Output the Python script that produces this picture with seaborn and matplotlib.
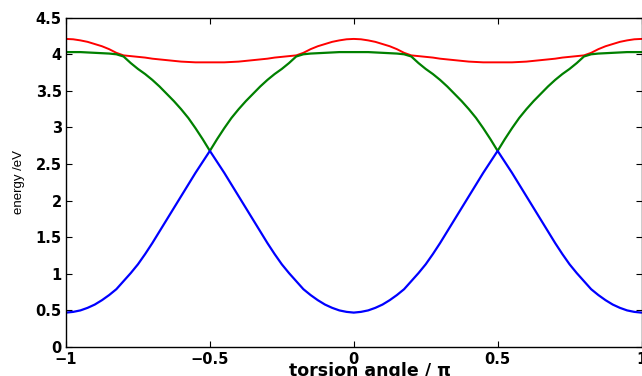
import matplotlib
matplotlib.use("Agg")
import matplotlib.pyplot as plt
import seaborn as sns
import pandas as pd

# torsion angle / pi
angle = [-1.000, -0.975, -0.950, -0.925, -0.900, -0.875, -0.850, -0.825, -0.800, -0.775,
         -0.750, -0.725, -0.700, -0.675, -0.650, -0.625, -0.600, -0.575, -0.550, -0.525,
         -0.500, -0.475, -0.450, -0.425, -0.400, -0.375, -0.350, -0.325, -0.300, -0.275,
         -0.250, -0.225, -0.200, -0.175, -0.150, -0.125, -0.100, -0.075, -0.050, -0.025,
         0.000, 0.025, 0.050, 0.075, 0.100, 0.125, 0.150, 0.175, 0.200, 0.225,
         0.250, 0.275, 0.300, 0.325, 0.350, 0.375, 0.400, 0.425, 0.450, 0.475,
         0.500, 0.525, 0.550, 0.575, 0.600, 0.625, 0.650, 0.675, 0.700, 0.725,
         0.750, 0.775, 0.800, 0.825, 0.850, 0.875, 0.900, 0.925, 0.950, 0.975,
         1.000]

# energies / eV, lowest state (blue)
state_low = [0.47, 0.48, 0.50, 0.535, 0.58, 0.64, 0.71, 0.79, 0.90, 1.01,
             1.13, 1.27, 1.42, 1.58, 1.74, 1.90, 2.06, 2.22, 2.38, 2.53,
             2.68, 2.53, 2.38, 2.22, 2.06, 1.90, 1.74, 1.58, 1.42, 1.27,
             1.13, 1.01, 0.90, 0.79, 0.71, 0.64, 0.58, 0.535, 0.50, 0.48,
             0.47, 0.48, 0.50, 0.535, 0.58, 0.64, 0.71, 0.79, 0.90, 1.01,
             1.13, 1.27, 1.42, 1.58, 1.74, 1.90, 2.06, 2.22, 2.38, 2.53,
             2.68, 2.53, 2.38, 2.22, 2.06, 1.90, 1.74, 1.58, 1.42, 1.27,
             1.13, 1.01, 0.90, 0.79, 0.71, 0.64, 0.58, 0.535, 0.50, 0.48,
             0.47]

# middle state (green)
state_mid = [4.03, 4.03, 4.03, 4.025, 4.02, 4.015, 4.01, 4.00, 3.97, 3.88,
             3.80, 3.73, 3.65, 3.56, 3.46, 3.36, 3.25, 3.13, 2.99, 2.84,
             2.68, 2.84, 2.99, 3.13, 3.25, 3.36, 3.46, 3.56, 3.65, 3.73,
             3.80, 3.88, 3.97, 4.00, 4.01, 4.015, 4.02, 4.025, 4.03, 4.03,
             4.03, 4.03, 4.03, 4.025, 4.02, 4.015, 4.01, 4.00, 3.97, 3.88,
             3.80, 3.73, 3.65, 3.56, 3.46, 3.36, 3.25, 3.13, 2.99, 2.84,
             2.68, 2.84, 2.99, 3.13, 3.25, 3.36, 3.46, 3.56, 3.65, 3.73,
             3.80, 3.88, 3.97, 4.00, 4.01, 4.015, 4.02, 4.025, 4.03, 4.03,
             4.03]

# highest state (red)
state_high = [4.21, 4.205, 4.19, 4.17, 4.14, 4.11, 4.07, 4.02, 3.985, 3.975,
              3.965, 3.955, 3.94, 3.93, 3.92, 3.91, 3.90, 3.895, 3.89, 3.89,
              3.89, 3.89, 3.89, 3.895, 3.90, 3.91, 3.92, 3.93, 3.94, 3.955,
              3.965, 3.975, 3.985, 4.02, 4.07, 4.11, 4.14, 4.17, 4.19, 4.205,
              4.21, 4.205, 4.19, 4.17, 4.14, 4.11, 4.07, 4.02, 3.985, 3.975,
              3.965, 3.955, 3.94, 3.93, 3.92, 3.91, 3.90, 3.895, 3.89, 3.89,
              3.89, 3.89, 3.89, 3.895, 3.90, 3.91, 3.92, 3.93, 3.94, 3.955,
              3.965, 3.975, 3.985, 4.02, 4.07, 4.11, 4.14, 4.17, 4.19, 4.205,
              4.21]

xticks = [-1, -0.5, 0, 0.5, 1]
xticklabels = ["\u22121", "\u22120.5", "0", "0.5", "1"]
yticks = [0, 0.5, 1, 1.5, 2, 2.5, 3, 3.5, 4, 4.5]
yticklabels = ["0", "0.5", "1", "1.5", "2", "2.5", "3", "3.5", "4", "4.5"]

sns.set_style("ticks")
plt.rcParams["font.family"] = ["DejaVu Sans"]
plt.rcParams["text.color"] = "black"
plt.rcParams["axes.labelcolor"] = "black"
plt.rcParams["xtick.color"] = "black"
plt.rcParams["ytick.color"] = "black"

df = pd.DataFrame({"angle": angle, "low": state_low, "mid": state_mid, "high": state_high})

fig = plt.figure(figsize=(6.42, 3.76), dpi=100)
ax = fig.add_axes([66 / 642, 1 - 347 / 376, 575.5 / 642, (347 - 17.7) / 376])

sns.lineplot(data=df, x="angle", y="high", color=(1, 0, 0), lw=1.4, ax=ax, estimator=None)
sns.lineplot(data=df, x="angle", y="mid", color=(0, 0.5, 0), lw=1.6, ax=ax, estimator=None)
sns.lineplot(data=df, x="angle", y="low", color=(0, 0, 1), lw=1.6, ax=ax, estimator=None)

ax.set_xlim(-1, 1)
ax.set_ylim(0, 4.5)
ax.set_xticks(xticks)
ax.set_xticklabels(xticklabels, fontweight="bold", fontsize=10.5, color="black")
ax.set_yticks(yticks)
ax.set_yticklabels(yticklabels, fontweight="bold", fontsize=10.5, color="black")
ax.tick_params(direction="in", length=4, width=0.8, top=True, right=True,
               colors="black")
ax.tick_params(axis="x", pad=3.5)
ax.tick_params(axis="y", pad=3)
for s in ax.spines.values():
    s.set_visible(True)
    s.set_linewidth(1.0)
    s.set_color("black")

ax.set_xlabel("torsion angle / \u03c0", fontweight="bold", fontsize=12.5, color="black")
ax.xaxis.set_label_coords(0.528, -0.047, transform=ax.transAxes)
ax.xaxis.label.set_va("top")
ax.set_ylabel("energy /eV", fontsize=9.5, color="black",
              family=["Liberation Sans", "DejaVu Sans"])
ax.yaxis.set_label_coords(-0.072, 0.50)

fig.savefig("out.png", dpi=100)
